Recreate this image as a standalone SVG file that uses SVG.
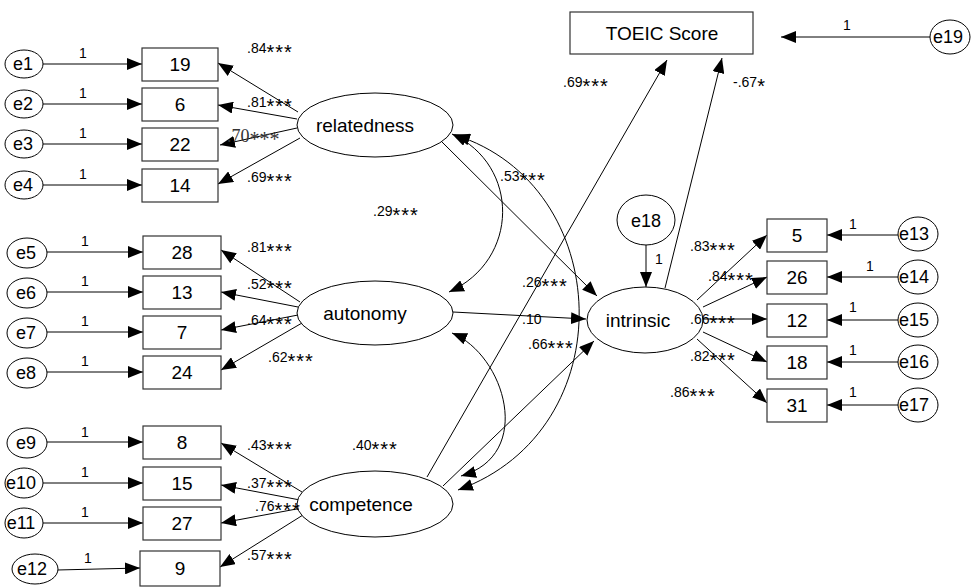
<svg xmlns="http://www.w3.org/2000/svg" width="971" height="588" viewBox="0 0 971 588">
<style>
text{font-family:"Liberation Sans",Arial,sans-serif;fill:#000}
.nl{font-size:19px;text-anchor:middle}
.el{font-size:18px;text-anchor:middle}
.one{font-size:14px;text-anchor:middle}
.cf{font-size:14px}
.sr{font-family:"Liberation Serif","Times New Roman",serif;font-size:18px;fill:#333}
.st{font-size:20px;letter-spacing:1px}
.box{fill:#fff;stroke:#333;stroke-width:1.2}
.ell{fill:#fff;stroke:#000;stroke-width:1}
.ln{fill:none;stroke:#000;stroke-width:1;marker-end:url(#ah)}
.dbl{fill:none;stroke:#000;stroke-width:1;marker-start:url(#ah);marker-end:url(#ah)}
</style>
<defs>
<marker id="ah" viewBox="0 0 15 12" refX="15" refY="6" markerWidth="15" markerHeight="12" markerUnits="userSpaceOnUse" orient="auto-start-reverse"><path d="M0,0 L15,6 L0,12 z" fill="#000"/></marker>
</defs>
<rect width="971" height="588" fill="#fff"/>
<g id="connectors">
<path class="ln" d="M43,64 L142,64"/>
<path class="ln" d="M43,104 L142,104"/>
<path class="ln" d="M43,144 L142,144"/>
<path class="ln" d="M43,185 L142,185"/>
<path class="ln" d="M47,252 L143,252"/>
<path class="ln" d="M47,292 L143,292"/>
<path class="ln" d="M47,332 L143,332"/>
<path class="ln" d="M47,372 L143,372"/>
<path class="ln" d="M47,442 L143,442"/>
<path class="ln" d="M43,483 L143,483"/>
<path class="ln" d="M43,523 L143,523"/>
<path class="ln" d="M57,570 L140,568"/>
<path class="ln" d="M898,235 L827,235"/>
<path class="ln" d="M898,277 L827,277"/>
<path class="ln" d="M898,320 L827,320"/>
<path class="ln" d="M898,362 L827,362"/>
<path class="ln" d="M898,405 L827,405"/>
<path class="ln" d="M930,37 L781,37"/>
<path class="ln" d="M646,245 L646,287"/>
<path class="ln" d="M298,112 L218,63"/>
<path class="ln" d="M297,119 L218,105"/>
<path class="ln" d="M297,128 L220,145"/>
<path class="ln" d="M300,138 L218,184"/>
<path class="ln" d="M300,302 L221,250"/>
<path class="ln" d="M298,307 L221,292"/>
<path class="ln" d="M298,315 L221,330"/>
<path class="ln" d="M302,323 L221,370"/>
<path class="ln" d="M302,492 L221,443"/>
<path class="ln" d="M300,500 L221,485"/>
<path class="ln" d="M302,508 L221,523"/>
<path class="ln" d="M303,515 L220,567"/>
<path class="ln" d="M697,300 L767,235"/>
<path class="ln" d="M703,307 L767,277"/>
<path class="ln" d="M703,319 L767,319"/>
<path class="ln" d="M703,332 L767,362"/>
<path class="ln" d="M697,339 L767,403"/>
<path class="ln" d="M442,142 L597,296"/>
<path class="ln" d="M453,312 L586,319"/>
<path class="ln" d="M443,486 L594,341"/>
<path class="ln" d="M427,477 L667,60"/>
<path class="ln" d="M665,288 L722,58"/>
<path class="dbl" d="M452,134 C520,165 520,260 449,292"/>
<path class="dbl" d="M455,135 C615,185 625,430 458,490"/>
<path class="dbl" d="M452,333 C505,355 535,455 461,476"/>
</g>
<g id="relatedness"><ellipse class="ell" cx="375" cy="125" rx="78" ry="32"/><text class="nl" x="365" y="132">relatedness</text></g>
<g id="autonomy"><ellipse class="ell" cx="375" cy="313" rx="78" ry="32"/><text class="nl" x="365" y="320">autonomy</text></g>
<g id="competence"><ellipse class="ell" cx="375" cy="504" rx="78" ry="33"/><text class="nl" x="361" y="511">competence</text></g>
<g id="intrinsic"><ellipse class="ell" cx="645" cy="320" rx="58" ry="33"/><text class="nl" x="638" y="327">intrinsic</text></g>
<g id="toeic"><rect class="box" x="570" y="12" width="183" height="42"/><text class="nl" x="662" y="40">TOEIC Score</text></g>
<g id="v19"><rect class="box" x="142" y="48" width="76" height="33"/><text class="nl" x="180" y="71">19</text></g>
<g id="v6"><rect class="box" x="142" y="88" width="76" height="33"/><text class="nl" x="180" y="111">6</text></g>
<g id="v22"><rect class="box" x="142" y="128" width="76" height="33"/><text class="nl" x="180" y="151">22</text></g>
<g id="v14"><rect class="box" x="142" y="169" width="76" height="33"/><text class="nl" x="180" y="192">14</text></g>
<g id="v28"><rect class="box" x="143" y="236" width="78" height="33"/><text class="nl" x="182" y="259">28</text></g>
<g id="v13"><rect class="box" x="143" y="276" width="78" height="33"/><text class="nl" x="182" y="299">13</text></g>
<g id="v7"><rect class="box" x="143" y="316" width="78" height="33"/><text class="nl" x="182" y="339">7</text></g>
<g id="v24"><rect class="box" x="143" y="356" width="78" height="33"/><text class="nl" x="182" y="379">24</text></g>
<g id="v8"><rect class="box" x="143" y="426" width="78" height="33"/><text class="nl" x="182" y="449">8</text></g>
<g id="v15"><rect class="box" x="143" y="467" width="78" height="33"/><text class="nl" x="182" y="490">15</text></g>
<g id="v27"><rect class="box" x="143" y="507" width="78" height="33"/><text class="nl" x="182" y="530">27</text></g>
<g id="v9"><rect class="box" x="140" y="551" width="80" height="35"/><text class="nl" x="180" y="575">9</text></g>
<g id="v5"><rect class="box" x="767" y="219" width="60" height="33"/><text class="nl" x="797" y="242">5</text></g>
<g id="v26"><rect class="box" x="767" y="261" width="60" height="33"/><text class="nl" x="797" y="284">26</text></g>
<g id="v12"><rect class="box" x="767" y="304" width="60" height="33"/><text class="nl" x="797" y="327">12</text></g>
<g id="v18"><rect class="box" x="767" y="346" width="60" height="33"/><text class="nl" x="797" y="369">18</text></g>
<g id="v31"><rect class="box" x="767" y="389" width="60" height="33"/><text class="nl" x="797" y="412">31</text></g>
<g id="e1"><ellipse class="ell" cx="24" cy="64" rx="19" ry="14"/><text class="el" x="23" y="70">e1</text></g>
<g id="e2"><ellipse class="ell" cx="24" cy="104" rx="19" ry="14"/><text class="el" x="23" y="110">e2</text></g>
<g id="e3"><ellipse class="ell" cx="24" cy="144" rx="19" ry="14"/><text class="el" x="23" y="150">e3</text></g>
<g id="e4"><ellipse class="ell" cx="24" cy="185" rx="19" ry="14"/><text class="el" x="23" y="191">e4</text></g>
<g id="e5"><ellipse class="ell" cx="27" cy="253" rx="20" ry="15"/><text class="el" x="26" y="259">e5</text></g>
<g id="e6"><ellipse class="ell" cx="27" cy="293" rx="20" ry="15"/><text class="el" x="26" y="299">e6</text></g>
<g id="e7"><ellipse class="ell" cx="27" cy="333" rx="20" ry="15"/><text class="el" x="26" y="339">e7</text></g>
<g id="e8"><ellipse class="ell" cx="27" cy="373" rx="20" ry="15"/><text class="el" x="26" y="379">e8</text></g>
<g id="e9"><ellipse class="ell" cx="27" cy="443" rx="20" ry="15"/><text class="el" x="26" y="449">e9</text></g>
<g id="e10"><ellipse class="ell" cx="24" cy="483" rx="19" ry="15"/><text class="el" x="21" y="489">e10</text></g>
<g id="e11"><ellipse class="ell" cx="24" cy="523" rx="19" ry="15"/><text class="el" x="21" y="529">e11</text></g>
<g id="e12"><ellipse class="ell" cx="35" cy="569" rx="23" ry="15"/><text class="el" x="32" y="575">e12</text></g>
<g id="e13"><ellipse class="ell" cx="918" cy="234" rx="20" ry="17"/><text class="el" x="914" y="240">e13</text></g>
<g id="e14"><ellipse class="ell" cx="918" cy="277" rx="20" ry="17"/><text class="el" x="914" y="283">e14</text></g>
<g id="e15"><ellipse class="ell" cx="918" cy="320" rx="20" ry="17"/><text class="el" x="914" y="326">e15</text></g>
<g id="e16"><ellipse class="ell" cx="918" cy="362" rx="20" ry="17"/><text class="el" x="914" y="368">e16</text></g>
<g id="e17"><ellipse class="ell" cx="918" cy="405" rx="20" ry="17"/><text class="el" x="914" y="411">e17</text></g>
<g id="e18"><ellipse class="ell" cx="646" cy="220" rx="29" ry="25"/><text class="el" x="646" y="227">e18</text></g>
<g id="e19"><ellipse class="ell" cx="950" cy="37" rx="20" ry="17"/><text class="el" x="948" y="43">e19</text></g>
<g id="path-labels">
<text class="one" x="83" y="58">1</text>
<text class="one" x="83" y="98">1</text>
<text class="one" x="83" y="138">1</text>
<text class="one" x="83" y="179">1</text>
<text class="one" x="85" y="246">1</text>
<text class="one" x="85" y="286">1</text>
<text class="one" x="85" y="326">1</text>
<text class="one" x="85" y="366">1</text>
<text class="one" x="85" y="437">1</text>
<text class="one" x="85" y="477">1</text>
<text class="one" x="85" y="517">1</text>
<text class="one" x="88" y="563">1</text>
<text class="one" x="853" y="229">1</text>
<text class="one" x="870" y="271">1</text>
<text class="one" x="853" y="312">1</text>
<text class="one" x="853" y="355">1</text>
<text class="one" x="853" y="397">1</text>
<text class="one" x="847" y="30">1</text>
<text class="one" x="659" y="264">1</text>
<text class="cf" x="247" y="53">.84<tspan class="st" dy="6">***</tspan></text>
<text class="cf" x="247" y="107">.81<tspan class="st" dy="6">***</tspan></text>
<text class="sr" x="227" y="142">.70<tspan dy="4" style="font-size:20px">***</tspan></text>
<text class="cf" x="247" y="182">.69<tspan class="st" dy="6">***</tspan></text>
<text class="cf" x="247" y="252">.81<tspan class="st" dy="6">***</tspan></text>
<text class="cf" x="247" y="289">.52<tspan class="st" dy="6">***</tspan></text>
<text class="cf" x="247" y="325">.64<tspan class="st" dy="6">***</tspan></text>
<text class="cf" x="268" y="362">.62<tspan class="st" dy="6">***</tspan></text>
<text class="cf" x="247" y="450">.43<tspan class="st" dy="6">***</tspan></text>
<text class="cf" x="247" y="488">.37<tspan class="st" dy="6">***</tspan></text>
<text class="cf" x="255" y="511">.76<tspan class="st" dy="6">***</tspan></text>
<text class="cf" x="247" y="560">.57<tspan class="st" dy="6">***</tspan></text>
<text class="cf" x="352" y="450">.40<tspan class="st" dy="6">***</tspan></text>
<text class="cf" x="373" y="216">.29<tspan class="st" dy="6">***</tspan></text>
<text class="cf" x="500" y="181">.53<tspan class="st" dy="6">***</tspan></text>
<text class="cf" x="522" y="287">.26<tspan class="st" dy="6">***</tspan></text>
<text class="cf" x="522" y="324">.10</text>
<text class="cf" x="528" y="349">.66<tspan class="st" dy="6">***</tspan></text>
<text class="cf" x="690" y="251">.83<tspan class="st" dy="6">***</tspan></text>
<text class="cf" x="708" y="281">.84<tspan class="st" dy="6">***</tspan></text>
<text class="cf" x="690" y="324">.66<tspan class="st" dy="6">***</tspan></text>
<text class="cf" x="690" y="361">.82<tspan class="st" dy="6">***</tspan></text>
<text class="cf" x="670" y="397">.86<tspan class="st" dy="6">***</tspan></text>
<text class="cf" x="563" y="87">.69<tspan class="st" dy="6">***</tspan></text>
<text class="cf" x="733" y="87">-.67<tspan class="st" dy="6">*</tspan></text>
</g>
</svg>
